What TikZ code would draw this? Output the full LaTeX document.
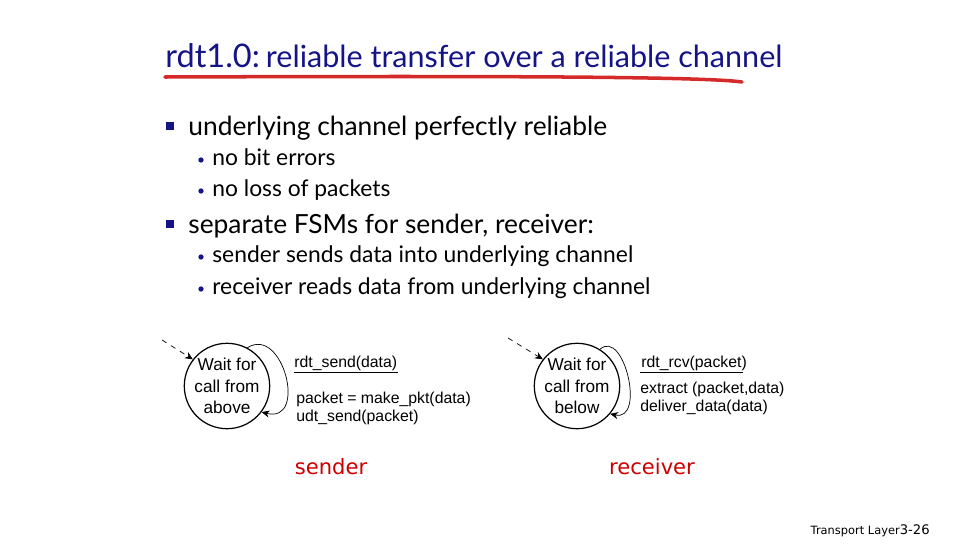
\documentclass[tikz,border=0pt]{standalone}
\usepackage{fontspec}
\setmainfont{Lato}
\newfontfamily\arialfont{Liberation Sans}
\newfontfamily\tahomafont{DejaVu Sans}
\usetikzlibrary{arrows.meta}
\definecolor{azul}{RGB}{20,20,135}
\definecolor{sublinha}{RGB}{212,42,42}
\definecolor{vermelho}{RGB}{204,0,0}

\begin{document}
\begin{tikzpicture}[x=0.02cm, y=-0.02cm, >={Stealth[length=4.5pt,width=4pt]},
    estado/.style={circle, draw, line width=0.7pt, minimum size=1.68cm, inner sep=0pt,
        align=center, font=\arialfont\fontsize{9.8}{12.2}\selectfont},
    rotulo/.style={anchor=base west, inner sep=0pt, align=left,
        font=\arialfont\fontsize{9}{9.7}\selectfont},
    topico/.style={anchor=base west, inner sep=0pt, font=\fontsize{15}{17}\selectfont},
    subtopico/.style={anchor=base west, inner sep=0pt, font=\fontsize{13}{15}\selectfont},
    papel/.style={anchor=base, inner sep=0pt, text=vermelho, font=\tahomafont\fontsize{12}{14}\selectfont}]

    \useasboundingbox (0,0) rectangle (980,551);

    % Título
    \node[anchor=base west, inner sep=0pt, text=azul] (titulo) at (165,67)
        {{\fontsize{18.5}{22}\selectfont rdt1.0:} \fontsize{17.4}{20}\selectfont reliable transfer over a reliable channel};
    \draw[sublinha, line width=2pt, line cap=round] (165,77) .. controls (450,76) and (700,76) .. (742,82);

    % Tópicos
    \foreach \y/\texto [count=\i] in {135/underlying channel perfectly reliable, 233/{separate FSMs for sender, receiver:}} {
        \fill[azul] (166,\y-13) rectangle (174,\y-5);
        \node[topico] (topico\i) at (188,\y) {\texto};
    }
    \foreach \y/\texto [count=\i] in {165/no bit errors, 196/no loss of packets,
        262/sender sends data into underlying channel, 294/receiver reads data from underlying channel} {
        \fill[azul] (201,\y-5) circle (1.5pt);
        \node[subtopico] (sub\i) at (212,\y) {\texto};
    }

    % Remetente
    \node[estado] (esperacima) at (227,386) {Wait for\\call from\\above};
    \coordinate (entracima) at (162,340);
    \draw[dashed, ->] (entracima) -- (esperacima.142);
    \draw[->] (esperacima.62) .. controls (283,325) and (308,424) .. (esperacima.-37);
    \node[rotulo] (evento1) at (294,367) {rdt\_send(data)};
    \draw (294,372) -- (398,372);
    \node[rotulo] (acao1) at (296,421) {packet = make\_pkt(data)\\udt\_send(packet)};

    % Receptor
    \node[estado] (esperabaixo) at (577,386) {Wait for\\call from\\below};
    \coordinate (entrabaixo) at (508,338);
    \draw[dashed, ->] (entrabaixo) -- (esperabaixo.142);
    \draw[->] (esperabaixo.58) .. controls (624,328) and (646,422) .. (esperabaixo.-40);
    \node[rotulo] (evento2) at (641,367) {rdt\_rcv(packet)};
    \draw (640,372) -- (743,372);
    \node[rotulo] (acao2) at (640,411) {extract (packet,data)\\deliver\_data(data)};

    % Legendas
    \node[papel] (remetente) at (331,474) {sender};
    \node[papel] (receptor) at (652,474) {receiver};
    \node[anchor=base east, inner sep=0pt, font=\tahomafont\fontsize{6.5}{8}\selectfont] (rodape) at (930,534)
        {Transport Layer{\fontsize{7.5}{9}\selectfont 3-26}};
\end{tikzpicture}
\end{document}
